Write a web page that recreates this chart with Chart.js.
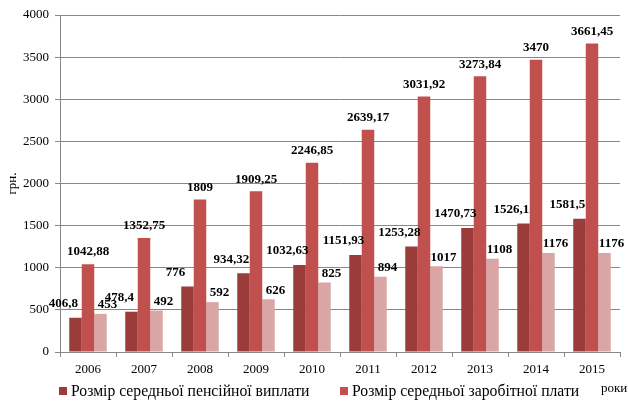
<!DOCTYPE html>
<html>
<head>
<meta charset="utf-8">
<script src="https://cdn.jsdelivr.net/npm/chart.js@4.4.1/dist/chart.umd.min.js"></script>
<style>
  html, body { margin: 0; padding: 0; background: #fff; }
  #wrap { width: 628px; height: 403px; position: relative; }
</style>
</head>
<body>
<div id="wrap"><canvas id="chart"></canvas></div>
<script>
let years = ['2006', '2007', '2008', '2009', '2010', '2011', '2012', '2013', '2014', '2015'];
let pension = [406.8, 478.4, 776, 934.32, 1032.63, 1151.93, 1253.28, 1470.73, 1526.1, 1581.5];
let salary = [1042.88, 1352.75, 1809, 1909.25, 2246.85, 2639.17, 3031.92, 3273.84, 3470, 3661.45];
let minimum = [453, 492, 592, 626, 825, 894, 1017, 1108, 1176, 1176];

let serif = "'Liberation Serif', 'Times New Roman', serif";
Chart.defaults.font.family = serif;

// value labels over bars, shifted the way the original has them
let labelShift = [[-12, 14], [0, 12], [7, 9]];
let barLabels = {
    id: 'barLabels',
    afterDatasetsDraw(chart) {
        let ctx = chart.ctx;
        ctx.save();
        ctx.font = 'bold 13px ' + serif;
        ctx.fillStyle = '#000';
        ctx.textAlign = 'center';
        ctx.textBaseline = 'middle';
        chart.data.datasets.forEach(function (ds, i) {
            let meta = chart.getDatasetMeta(i);
            meta.data.forEach(function (bar, j) {
                let txt = String(ds.data[j]).replace('.', ',');
                ctx.fillText(txt, bar.x + labelShift[i][0], bar.y - labelShift[i][1]);
            });
        });
        ctx.restore();
    }
};

// legend for the first two series + "роки" under the right end of the axis
let legendItems = [[59, 71], [340, 352]];
let bottomTexts = {
    id: 'bottomTexts',
    afterDraw(chart) {
        let ctx = chart.ctx;
        ctx.save();
        ctx.textAlign = 'left';
        ctx.textBaseline = 'middle';
        for (let i = 0; i < 2; i++) {
            let ds = chart.data.datasets[i];
            ctx.fillStyle = ds.backgroundColor;
            ctx.fillRect(legendItems[i][0], 387, 8, 8);
            ctx.fillStyle = '#000';
            ctx.font = '15.7px ' + serif;
            ctx.fillText(ds.label, legendItems[i][1], 392);
        }
        ctx.font = '13px ' + serif;
        ctx.fillText('роки', 601, 389);
        ctx.restore();
    }
};

let ctx = document.getElementById('chart').getContext('2d');
let chart = new Chart(ctx, {
    type: 'bar',
    data: {
        labels: years,
        datasets: [
            {
                label: 'Розмір середньої пенсійної виплати',
                data: pension,
                backgroundColor: '#9B3C3A',
                categoryPercentage: 0.67,
                barPercentage: 1.0
            },
            {
                label: 'Розмір середньої заробітної плати',
                data: salary,
                backgroundColor: '#C0504D',
                categoryPercentage: 0.67,
                barPercentage: 1.0
            },
            {
                label: 'Прожитковий мінімум',
                data: minimum,
                backgroundColor: '#D9A6A5',
                categoryPercentage: 0.67,
                barPercentage: 1.0
            }
        ]
    },
    options: {
        responsive: true,
        maintainAspectRatio: false,
        animation: false,
        layout: {
            padding: { left: 5, right: 8, top: 15, bottom: 25 }
        },
        plugins: {
            tooltip: { enabled: false },
            legend: { display: false }
        },
        scales: {
            x: {
                grid: {
                    display: true,
                    offset: true,
                    drawOnChartArea: false,
                    drawTicks: true,
                    tickLength: 5,
                    color: '#888'
                },
                border: { color: '#888' },
                ticks: {
                    color: '#000',
                    padding: 5,
                    font: { family: serif, size: 13 }
                },
                afterFit: function (scale) { scale.height = 26; }
            },
            y: {
                min: 0,
                max: 4000,
                grid: {
                    color: '#888',
                    drawTicks: true,
                    tickLength: 5
                },
                border: { color: '#888' },
                ticks: {
                    stepSize: 500,
                    color: '#000',
                    padding: 6,
                    font: { family: serif, size: 13 },
                    callback: function (v) { return String(v); }
                },
                title: {
                    display: true,
                    text: 'грн.',
                    color: '#000',
                    padding: 0,
                    font: { family: serif, size: 13 }
                },
                afterFit: function (scale) { scale.width = 55; }
            }
        }
    },
    plugins: [barLabels, bottomTexts]
});
</script>
</body>
</html>
